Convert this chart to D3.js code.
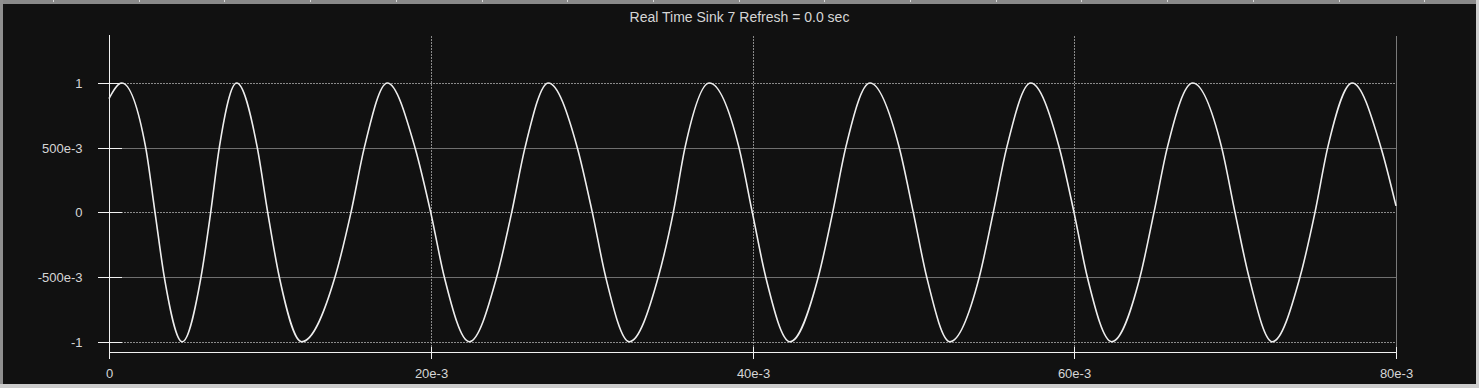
<!DOCTYPE html>
<html>
<head>
<meta charset="utf-8">
<script src="https://cdn.jsdelivr.net/npm/d3@7"></script>
<style>
    body { margin: 0; background: #111111; overflow: hidden; }
    .tick text { font-family: "Liberation Sans", Arial, sans-serif; font-size: 13px; fill: #d6d6d6; }
    .chart-title { font-family: "Liberation Sans", Arial, sans-serif; font-size: 14px; fill: #d6d6d6; }
</style>
</head>
<body>
<div id="scope"></div>
<script>
// samples (time in ms, amplitude)
const timesMs = [
    0, 0.789, 2.281, 2.859, 3.437, 4.556, 5.719, 6.322, 6.856, 7.938,
    9.218, 9.865, 10.586, 11.978, 14.048, 15.043, 15.870, 17.299,
    19.021, 19.997, 20.842, 22.396, 24.099, 25.032, 25.859, 27.307,
    29.110, 30.042, 30.875, 32.342, 34.144, 35.077, 35.804, 37.315,
    39.161, 39.988, 40.821, 42.331, 44.090, 44.985, 45.793, 47.304,
    49.125, 49.995, 50.828, 52.277, 54.098, 54.968, 55.801, 57.293,
    59.071, 59.984, 60.811, 62.328, 64.087, 64.957, 65.784, 67.363,
    69.165, 69.992, 70.862, 72.311, 74.033, 74.965, 75.754, 77.284,
    79.068, 80
];
const values = [
    0.88, 1, 0.5, 0, -0.5, -1, -0.5, 0, 0.5, 1,
    0.5, 0, -0.5, -1, -0.5, 0, 0.5, 1,
    0.5, 0, -0.5, -1, -0.5, 0, 0.5, 1,
    0.5, 0, -0.5, -1, -0.5, 0, 0.5, 1,
    0.5, 0, -0.5, -1, -0.5, 0, 0.5, 1,
    0.5, 0, -0.5, -1, -0.5, 0, 0.5, 1,
    0.5, 0, -0.5, -1, -0.5, 0, 0.5, 1,
    0.5, 0, -0.5, -1, -0.5, 0, 0.5, 1,
    0.5, 0.05
];
const xTicks = [0, 20, 40, 60, 80];
const xTickLabels = ["0", "20e-3", "40e-3", "60e-3", "80e-3"];
const yTicks = [1, 0.5, 0, -0.5, -1];
const yTickLabels = ["1", "500e-3", "0", "-500e-3", "-1"];
const titleText = "Real Time Sink 7 Refresh = 0.0 sec";

function drawScope() {
    const width = 1479;
    const height = 388;
    const plotTop = 35;
    const axisY = 352;

    const svg = d3.select("#scope")
        .append("svg")
        .attr("width", width)
        .attr("height", height)
        .style("display", "block");

    svg.append("rect")
        .attr("width", width)
        .attr("height", height)
        .attr("fill", "#111111");

    // window frame with ruler marks
    svg.append("rect").attr("x", 0).attr("y", 0).attr("width", width).attr("height", 4).attr("fill", "#8a8a8a");
    svg.append("rect").attr("x", 0).attr("y", 0).attr("width", 3).attr("height", height).attr("fill", "#8f8f8f");
    svg.append("rect").attr("x", width - 3).attr("y", 0).attr("width", 3).attr("height", height).attr("fill", "#cfcfcf");
    svg.append("rect").attr("x", 0).attr("y", height - 4).attr("width", width).attr("height", 4).attr("fill", "#cccccc");
    svg.append("g")
        .selectAll("line")
        .data(d3.range(53, width, 85.7))
        .enter().append("line")
        .attr("x1", d => Math.round(d) + 0.5)
        .attr("x2", d => Math.round(d) + 0.5)
        .attr("y1", 0)
        .attr("y2", 2)
        .attr("stroke", "#d8d8d8");

    const x = d3.scaleLinear()
        .domain([0, 80])
        .range([109, 1396]);

    const y = d3.scaleLinear()
        .domain([-1, 1])
        .range([341.7, 83]);

    const g = svg.append("g").attr("shape-rendering", "crispEdges");

    // horizontal grid
    g.selectAll(".hgrid")
        .data(yTicks)
        .enter().append("line")
        .attr("class", "hgrid")
        .attr("x1", x(0))
        .attr("x2", x(80))
        .attr("y1", d => Math.round(y(d)) + 0.5)
        .attr("y2", d => Math.round(y(d)) + 0.5)
        .attr("stroke", d => Math.abs(d) === 0.5 ? "#707070" : "#8a8a8a")
        .attr("stroke-dasharray", d => Math.abs(d) === 0.5 ? null : "2,1");

    // vertical grid
    g.selectAll(".vgrid")
        .data(xTicks.slice(1))
        .enter().append("line")
        .attr("class", "vgrid")
        .attr("x1", d => Math.round(x(d)) + 0.5)
        .attr("x2", d => Math.round(x(d)) + 0.5)
        .attr("y1", plotTop + 1)
        .attr("y2", axisY)
        .attr("stroke", d => d === 80 ? "#7a7a7a" : "#8a8a8a")
        .attr("stroke-dasharray", d => d === 80 ? null : "2,1");

    // y axis
    const yAxis = svg.append("g")
        .attr("transform", "translate(109.5,0)")
        .call(d3.axisLeft(y)
            .tickValues(yTicks)
            .tickFormat((d, i) => yTickLabels[i])
            .tickSizeInner(12)
            .tickSizeOuter(0)
            .tickPadding(15));
    yAxis.select(".domain").remove();
    yAxis.selectAll(".tick").attr("transform", d => `translate(0,${Math.round(y(d)) + 0.5})`);
    yAxis.selectAll(".tick line")
        .attr("x1", 12)
        .attr("stroke", "#f2f2f2")
        .attr("shape-rendering", "crispEdges");

    // x axis
    const xAxis = svg.append("g")
        .attr("transform", `translate(0,${axisY + 0.5})`)
        .call(d3.axisBottom(x)
            .tickValues(xTicks)
            .tickFormat((d, i) => xTickLabels[i])
            .tickSizeInner(6)
            .tickSizeOuter(0)
            .tickPadding(10));
    xAxis.select(".domain").remove();
    xAxis.selectAll(".tick").attr("transform", d => `translate(${Math.round(x(d)) + 0.5},0)`);
    xAxis.selectAll(".tick line")
        .attr("y1", -6)
        .attr("stroke", "#f2f2f2")
        .attr("shape-rendering", "crispEdges");

    // axis lines
    svg.append("line")
        .attr("x1", 109.5).attr("x2", 109.5)
        .attr("y1", plotTop).attr("y2", axisY + 6)
        .attr("stroke", "#f2f2f2")
        .attr("shape-rendering", "crispEdges");
    svg.append("line")
        .attr("x1", x(0)).attr("x2", x(80) + 1)
        .attr("y1", axisY + 0.5).attr("y2", axisY + 0.5)
        .attr("stroke", "#f2f2f2")
        .attr("shape-rendering", "crispEdges");

    // trace
    const points = timesMs.map((t, i) => [t, values[i]]);
    const line = d3.line()
        .x(d => x(d[0]))
        .y(d => y(d[1]))
        .curve(d3.curveMonotoneX);

    svg.append("path")
        .datum(points)
        .attr("d", line)
        .attr("fill", "none")
        .attr("stroke", "#eeeeee")
        .attr("stroke-width", 1.6);

    svg.append("text")
        .attr("class", "chart-title")
        .attr("x", width / 2)
        .attr("y", 22)
        .attr("text-anchor", "middle")
        .text(titleText);
}

drawScope();
</script>
</body>
</html>
